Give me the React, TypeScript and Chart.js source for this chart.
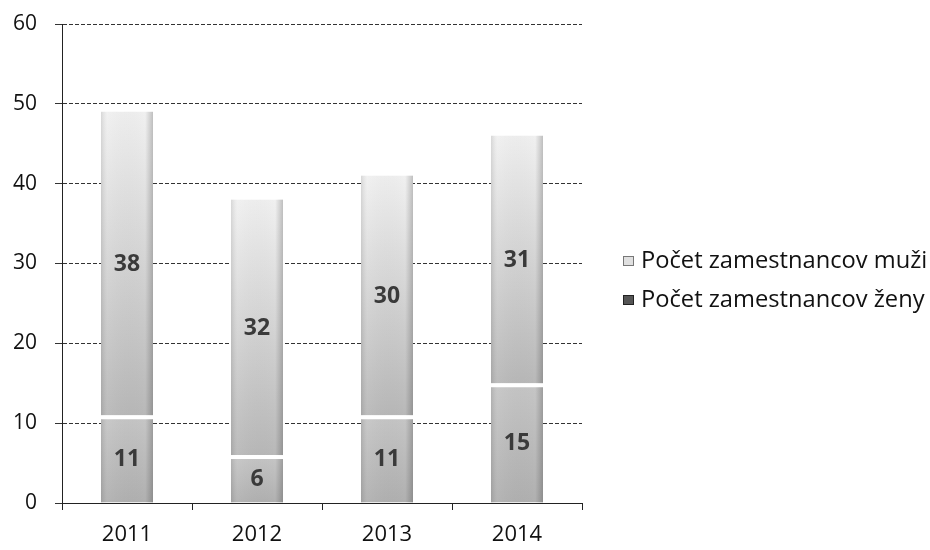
import React, { useEffect, useRef } from "react";
import { Chart, registerables } from "chart.js";

Chart.register(...registerables);

const years = ["2011", "2012", "2013", "2014"];
const zeny = [11, 6, 11, 15];
const muzi = [38, 32, 30, 31];
const labelMuzi = "Počet zamestnancov muži";
const labelZeny = "Počet zamestnancov ženy";
const yTicks = [0, 10, 20, 30, 40, 50, 60];

const FONT = "'Open Sans', Lato, sans-serif";

function gradFor(chart: any, top: number, bottom: number, c1: string, c2: string, fallback: string) {
  if (!chart.chartArea || !isFinite(top) || !isFinite(bottom) || top === bottom) return fallback;
  const g = chart.ctx.createLinearGradient(0, top, 0, bottom);
  g.addColorStop(0, c1);
  g.addColorStop(1, c2);
  return g;
}

const labelsPlugin = {
  id: "valueLabels",
  afterDatasetsDraw(chart: any) {
    const ctx = chart.ctx;
    ctx.save();
    chart.data.datasets.forEach((ds: any, di: number) => {
      const meta = chart.getDatasetMeta(di);
      meta.data.forEach((bar: any) => {
        const left = bar.x - bar.width / 2;
        const right = bar.x + bar.width / 2;
        const top = Math.min(bar.y, bar.base);
        const h = Math.abs(bar.base - bar.y);
        const off = di === 0 ? 4 : 0;
        const g = ctx.createLinearGradient(left, 0, right, 0);
        g.addColorStop(0, "rgba(0,0,0,0.10)");
        g.addColorStop(0.12, "rgba(255,255,255,0.06)");
        g.addColorStop(0.85, "rgba(0,0,0,0.0)");
        g.addColorStop(1, "rgba(0,0,0,0.20)");
        ctx.fillStyle = g;
        ctx.fillRect(left, top + off, right - left, h - off);
      });
    });
    ctx.font = `bold 23px ${FONT}`;
    ctx.fillStyle = "#3a3a3a";
    ctx.textAlign = "center";
    ctx.textBaseline = "middle";
    chart.data.datasets.forEach((ds: any, di: number) => {
      const meta = chart.getDatasetMeta(di);
      meta.data.forEach((bar: any, i: number) => {
        const p = bar.getCenterPoint();
        ctx.fillText(String(ds.data[i]), p.x, p.y + 1);
      });
    });
    ctx.restore();
  },
  afterDraw(chart: any) {
    const ctx = chart.ctx;
    ctx.save();
    let size = 22;
    ctx.font = `${size}px ${FONT}`;
    const w = ctx.measureText(labelMuzi).width;
    size = Math.round(size * (286 / w) * 10) / 10;
    ctx.font = `${size}px ${FONT}`;
    ctx.textBaseline = "middle";
    ctx.textAlign = "left";
    const items = [
      { text: labelMuzi, y: 261, fill: "#e0e0e0", stroke: "#777" },
      { text: labelZeny, y: 300, fill: "#555", stroke: "#222" },
    ];
    items.forEach((it) => {
      ctx.fillStyle = it.fill;
      ctx.fillRect(623, it.y - 5, 11, 10);
      ctx.strokeStyle = it.stroke;
      ctx.lineWidth = 1;
      ctx.strokeRect(623.5, it.y - 4.5, 10, 9);
      ctx.fillStyle = "#111";
      ctx.fillText(it.text, 641, it.y);
    });
    ctx.restore();
  },
};

export default function App() {
  const ref = useRef<HTMLCanvasElement>(null);
  useEffect(() => {
    document.body.style.margin = "0";
    const chart = new Chart(ref.current!, {
      type: "bar",
      data: {
        labels: years,
        datasets: [
          {
            label: labelZeny,
            data: zeny,
            backgroundColor: (c: any) => {
              const ch = c.chart;
              const y = ch.scales?.y;
              if (!y) return "#b8b8b8";
              return gradFor(ch, y.getPixelForValue(zeny[c.dataIndex] ?? 0), y.getPixelForValue(0), "#c6c6c6", "#b0b0b0", "#b8b8b8");
            },
            borderColor: "rgba(255,255,255,0.95)",
            borderWidth: { top: 4, left: 0, right: 0, bottom: 0 },
            borderSkipped: false,
          },
          {
            label: labelMuzi,
            data: muzi,
            backgroundColor: (c: any) => {
              const ch = c.chart;
              const y = ch.scales?.y;
              if (!y) return "#d0d0d0";
              const i = c.dataIndex;
              return gradFor(ch, y.getPixelForValue((zeny[i] ?? 0) + (muzi[i] ?? 0)), y.getPixelForValue(zeny[i] ?? 0), "#f0f0f0", "#b8b8b8", "#d0d0d0");
            },
            borderWidth: 0,
          },
        ],
      },
      options: {
        responsive: false,
        animation: false,
        layout: { padding: { left: 0, right: 348, top: 24, bottom: 0 } },
        datasets: { bar: { categoryPercentage: 1, barPercentage: 0.4 } },
        plugins: { legend: { display: false }, tooltip: { enabled: false } },
        scales: {
          x: {
            stacked: true,
            offset: true,
            grid: { drawOnChartArea: false, offset: true, color: "#222", tickLength: 7 },
            border: { color: "#222" },
            ticks: { color: "#111", font: { family: FONT, size: 22 }, padding: 12 },
            afterFit: (s: any) => { s.height = 47; s.paddingLeft = 0; s.paddingRight = 0; },
          },
          y: {
            stacked: true,
            min: 0,
            max: 60,
            afterBuildTicks: (s: any) => { s.ticks = yTicks.map((v) => ({ value: v })); },
            grid: { color: "#333", tickLength: 7, lineWidth: 1 },
            border: { color: "#222", dash: [4, 2] },
            ticks: { color: "#111", font: { family: FONT, size: 21 }, padding: 18 },
            afterFit: (s: any) => { s.width = 62; s.paddingTop = 0; s.paddingBottom = 0; },
          },
        },
      },
      plugins: [labelsPlugin],
    } as any);
    (chart.options.scales as any).y.grid.borderDash = [4, 2];
    chart.update();
    return () => chart.destroy();
  }, []);
  return (
    <div style={{ width: 930, height: 550 }}>
      <canvas ref={ref} width={930} height={550} style={{ display: "block" }} />
    </div>
  );
}
